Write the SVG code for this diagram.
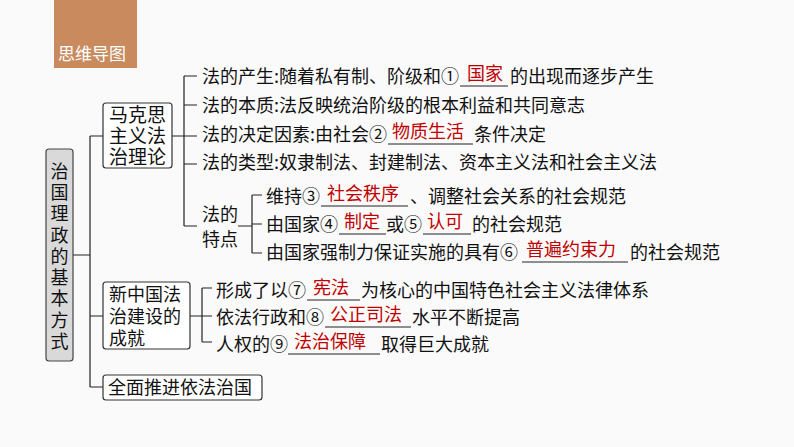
<svg xmlns="http://www.w3.org/2000/svg" width="794" height="447" viewBox="0 0 794 447">
<style>
text{font-family:"Noto Sans CJK SC","Noto Sans",sans-serif;fill:#111;font-size:18px}
.r{fill:#c00000}
.v{font-size:18px}
.box{fill:#fff;stroke:#333;stroke-width:1.2}
.ln{fill:none;stroke:#222;stroke-width:1.2}
.u{stroke:#222;stroke-width:1}
</style>
<rect width="794" height="447" fill="#fafafa"/>
<g id="header"><rect x="54" y="0" width="83" height="68" fill="#c98b5d"/><text x="58" y="60" style="fill:#fff;font-size:17px">思维导图</text></g>
<g id="connectors" class="ln">
<path d="M73 255H90M90 136V387M90 136H103M90 316H103M90 387H103"/>
<path d="M172 136H184M184 76V226M184 76H197M184 105H197M184 136H197M184 164H197M184 226H197"/>
<path d="M238 226H252M252 195V253M252 195H262M252 224H262M252 253H262"/>
<path d="M190 316H202M202 288V342M202 288H212M202 316H212M202 342H212"/>
</g>
<g id="root"><rect x="46" y="149" width="27" height="212" rx="3" fill="#d9d9d9" stroke="#444" stroke-width="1.2"/>
<text class="v" x="50.5" y="178">治</text><text class="v" x="50.5" y="199">国</text><text class="v" x="50.5" y="220">理</text><text class="v" x="50.5" y="242">政</text><text class="v" x="50.5" y="263">的</text><text class="v" x="50.5" y="284">基</text><text class="v" x="50.5" y="305">本</text><text class="v" x="50.5" y="327">方</text><text class="v" x="50.5" y="348">式</text></g>
<g id="marx"><rect class="box" x="103" y="103" width="69" height="65" rx="3"/><text x="109" y="122" style="font-size:19px">马克思</text><text x="109" y="143" style="font-size:19px">主义法</text><text x="109" y="164" style="font-size:19px">治理论</text></g>
<g id="marx-items">
<text x="202" y="83">法的产生:随着私有制、阶级和①</text><line class="u" x1="460" y1="86" x2="508" y2="86"/><text class="r" x="467" y="80">国家</text><text x="510" y="83">的出现而逐步产生</text>
<text x="202" y="112">法的本质:法反映统治阶级的根本利益和共同意志</text>
<text x="202" y="141">法的决定因素:由社会②</text><line class="u" x1="388" y1="144" x2="473" y2="144"/><text class="r" x="392" y="138">物质生活</text><text x="474" y="141">条件决定</text>
<text x="202" y="169">法的类型:奴隶制法、封建制法、资本主义法和社会主义法</text>
</g>
<g id="features"><text x="202" y="221">法的</text><text x="202" y="246">特点</text>
<text x="266" y="203">维持③</text><line class="u" x1="321" y1="206" x2="408" y2="206"/><text class="r" x="327" y="200">社会秩序</text><text x="410" y="203">、调整社会关系的社会规范</text>
<text x="266" y="231">由国家④</text><line class="u" x1="339" y1="234" x2="386" y2="234"/><text class="r" x="344" y="228">制定</text><text x="386" y="231">或⑤</text><line class="u" x1="423" y1="234" x2="471" y2="234"/><text class="r" x="427" y="228">认可</text><text x="472" y="231">的社会规范</text>
<text x="266" y="259">由国家强制力保证实施的具有⑥</text><line class="u" x1="522" y1="262" x2="628" y2="262"/><text class="r" x="526" y="256">普遍约束力</text><text x="630" y="259">的社会规范</text>
</g>
<g id="newchina"><rect class="box" x="103" y="282" width="87" height="67" rx="3"/><text x="109" y="301">新中国法</text><text x="109" y="323">治建设的</text><text x="109" y="345">成就</text></g>
<g id="newchina-items">
<text x="216" y="297">形成了以⑦</text><line class="u" x1="307" y1="300" x2="360" y2="300"/><text class="r" x="313" y="294">宪法</text><text x="361" y="297">为核心的中国特色社会主义法律体系</text>
<text x="216" y="324">依法行政和⑧</text><line class="u" x1="325" y1="327" x2="411" y2="327"/><text class="r" x="330" y="321">公正司法</text><text x="412" y="324">水平不断提高</text>
<text x="216" y="351">人权的⑨</text><line class="u" x1="288" y1="354" x2="380" y2="354"/><text class="r" x="294" y="348">法治保障</text><text x="381" y="351">取得巨大成就</text>
</g>
<g id="comprehensive"><rect class="box" x="103" y="375" width="159" height="25" rx="3"/><text x="108" y="394">全面推进依法治国</text></g>
</svg>
